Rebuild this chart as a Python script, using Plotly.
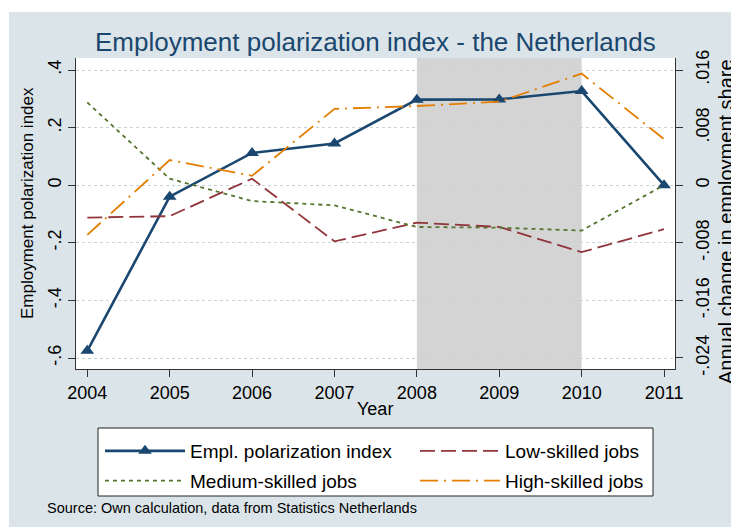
import plotly.graph_objects as go

# ---- data -------------------------------------------------------------
years = [2004, 2005, 2006, 2007, 2008, 2009, 2010, 2011]

polarization_index = [-0.575, -0.040, 0.112, 0.145, 0.297, 0.298, 0.327, 0.000]

low_skilled = [-0.0045, -0.0043, 0.0009, -0.0078, -0.0052, -0.0058, -0.0093, -0.0061]
medium_skilled = [0.0115, 0.0009, -0.0022, -0.0028, -0.0058, -0.0059, -0.0063, 0.0000]
high_skilled = [-0.0069, 0.0035, 0.0013, 0.0106, 0.0110, 0.0116, 0.0155, 0.0064]

crisis_span = [2008, 2010]

left_ticks = [-0.6, -0.4, -0.2, 0.0, 0.2, 0.4]
left_ticktext = ["-.6", "-.4", "-.2", "0", ".2", ".4"]
right_ticks = [-0.024, -0.016, -0.008, 0.0, 0.008, 0.016]
right_ticktext = ["-.024", "-.016", "-.008", "0", ".008", ".016"]

# ---- styling ----------------------------------------------------------
FONT = "Liberation Sans, Arial, sans-serif"
NAVY = "#1a476f"
MAROON = "#90353b"
GREEN = "#55752f"
ORANGE = "#e37e00"
BG = "#dbe4e8"
AXIS = "#333333"

W, H = 731, 527
L, R, T, B = 76, 56, 58, 158
PW, PH = W - L - R, H - T - B


def px(x):
    return (x - L) / PW


def py(y):
    return (H - B - y) / PH


fig = go.Figure()

# legend is split in two columns: "legend" (left) and "legend2" (right)
fig.add_trace(go.Scatter(
    x=years, y=low_skilled, name="Low-skilled jobs", yaxis="y2",
    mode="lines", line=dict(color=MAROON, width=1.8, dash="15px,6px"),
    legend="legend2", legendgroup="low", legendrank=1,
))
fig.add_trace(go.Scatter(
    x=years, y=medium_skilled, name="Medium-skilled jobs", yaxis="y2",
    mode="lines", line=dict(color=GREEN, width=1.8, dash="4px,4px"),
    legend="legend", legendgroup="medium", legendrank=2,
))
fig.add_trace(go.Scatter(
    x=years, y=high_skilled, name="High-skilled jobs", yaxis="y2",
    mode="lines", line=dict(color=ORANGE, width=1.8, dash="18px,6px,2px,6px"),
    legend="legend2", legendgroup="high", legendrank=2,
))
fig.add_trace(go.Scatter(
    x=years, y=polarization_index, name="Empl. polarization index",
    mode="lines+markers", line=dict(color=NAVY, width=2.6),
    marker=dict(symbol="triangle-up", size=12, color=NAVY),
    legend="legend", legendgroup="index", legendrank=1,
))

shapes = [
    # crisis years shading
    dict(type="rect", xref="x", yref="paper", x0=crisis_span[0], x1=crisis_span[1],
         y0=0, y1=1, fillcolor="#d4d4d4", line=dict(width=0), layer="between"),
    # white page border strips around the graph region
    dict(type="rect", xref="paper", yref="paper", x0=px(0), x1=px(W), y0=py(12), y1=py(0),
         fillcolor="white", line=dict(width=0), layer="below"),
    dict(type="rect", xref="paper", yref="paper", x0=px(0), x1=px(9), y0=py(H), y1=py(0),
         fillcolor="white", line=dict(width=0), layer="below"),
    # legend frame
    dict(type="rect", xref="paper", yref="paper", x0=px(98), x1=px(653), y0=py(496), y1=py(428),
         fillcolor="white", line=dict(width=1, color="#222222"), layer="below"),
]

annotations = [
    dict(text="Employment polarization index - the Netherlands", x=px(375), y=py(42),
         xref="paper", yref="paper", showarrow=False, xanchor="center", yanchor="middle",
         font=dict(family=FONT, size=26, color=NAVY)),
    dict(text="Employment polarization index", x=px(27), y=py(203), textangle=-90,
         xref="paper", yref="paper", showarrow=False, xanchor="center", yanchor="middle",
         font=dict(family=FONT, size=17, color="black")),
    dict(text="Annual change in employment share", x=px(726), y=py(222), textangle=-90,
         xref="paper", yref="paper", showarrow=False, xanchor="center", yanchor="middle",
         font=dict(family=FONT, size=20, color="black")),
    dict(text="Year", x=px(375), y=py(409),
         xref="paper", yref="paper", showarrow=False, xanchor="center", yanchor="middle",
         font=dict(family=FONT, size=18, color="black")),
    dict(text="Source: Own calculation, data from Statistics Netherlands", x=px(45), y=py(508),
         xref="paper", yref="paper", showarrow=False, xanchor="left", yanchor="middle",
         font=dict(family=FONT, size=14.5, color="black")),
]

legend_style = dict(
    orientation="v", xanchor="left", yanchor="top",
    xref="container", yref="container",
    bgcolor="rgba(0,0,0,0)", borderwidth=0,
    font=dict(family=FONT, size=19, color="black"),
    itemwidth=80, traceorder="grouped", tracegroupgap=2,
    itemclick=False, itemdoubleclick=False,
)

fig.update_layout(
    width=W, height=H,
    margin=dict(l=L, r=R, t=T, b=B, pad=0, autoexpand=False),
    paper_bgcolor=BG, plot_bgcolor="white",
    font=dict(family=FONT, size=18, color="black"),
    showlegend=True,
    legend=dict(legend_style, x=100 / W, y=1 - 432 / H),
    legend2=dict(legend_style, x=415 / W, y=1 - 432 / H),
    xaxis=dict(
        range=[2003.863, 2011.133], tickvals=years, ticktext=[str(y) for y in years],
        showgrid=False, zeroline=False, showline=True, linecolor=AXIS, linewidth=1.2,
        ticks="outside", ticklen=7, tickcolor=AXIS, tickwidth=1.2,
        tickfont=dict(family=FONT, size=18), mirror=False,
    ),
    yaxis=dict(
        range=[-0.6382, 0.4417], tickvals=left_ticks, ticktext=left_ticktext,
        tickangle=-90, showgrid=True, gridcolor="#c6d3d9", griddash="dot", gridwidth=1,
        zeroline=False, showline=True, linecolor=AXIS, linewidth=1.2,
        ticks="outside", ticklen=7, tickcolor=AXIS, tickwidth=1.2,
        tickfont=dict(family=FONT, size=18),
    ),
    yaxis2=dict(
        range=[-0.02553, 0.01767], tickvals=right_ticks, ticktext=right_ticktext,
        tickangle=-90, overlaying="y", side="right", showgrid=False, zeroline=False,
        showline=True, linecolor=AXIS, linewidth=1.2,
        ticks="outside", ticklen=7, tickcolor=AXIS, tickwidth=1.2,
        tickfont=dict(family=FONT, size=18), ticklabelstandoff=4,
    ),
    shapes=shapes,
    annotations=annotations,
)

fig.write_html("out.html")
